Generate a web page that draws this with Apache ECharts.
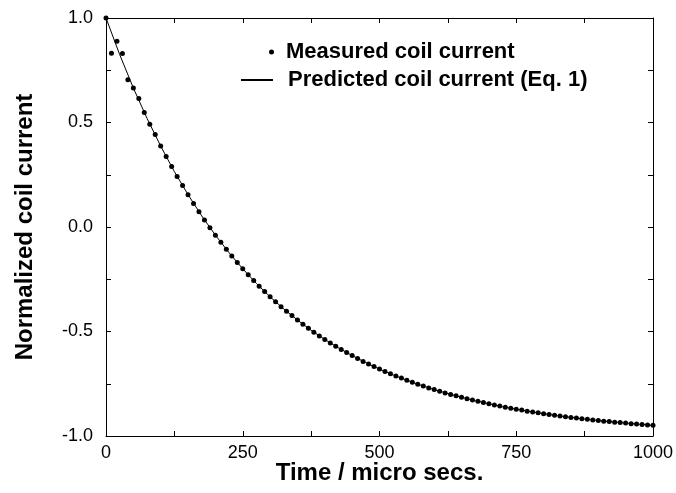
<!DOCTYPE html>
<html>
<head>
<meta charset="utf-8">
<script src="https://cdn.jsdelivr.net/npm/echarts@6/dist/echarts.min.js"></script>
<style>
html,body{margin:0;padding:0;background:#fff;}
#chart{width:676px;height:493px;}
</style>
</head>
<body>
<div id="chart"></div>
<script>
// time axis (micro secs) of the measured samples
var measuredTime = [0,10,20,30,40,50,60,70,80,90,
    100,110,120,130,140,150,160,170,180,190,
    200,210,220,230,240,250,260,270,280,290,
    300,310,320,330,340,350,360,370,380,390,
    400,410,420,430,440,450,460,470,480,490,
    500,510,520,530,540,550,560,570,580,590,
    600,610,620,630,640,650,660,670,680,690,
    700,710,720,730,740,750,760,770,780,790,
    800,810,820,830,840,850,860,870,880,890,
    900,910,920,930,940,950,960,970,980,990,1000];
// normalized coil current
var measuredCurrent = [1.000,0.831,0.889,0.830,0.705,0.665,0.615,0.548,0.492,0.443,
    0.387,0.337,0.289,0.242,0.198,0.154,0.113,0.073,0.034,-0.003,
    -0.039,-0.073,-0.107,-0.139,-0.170,-0.200,-0.228,-0.256,-0.283,-0.309,
    -0.334,-0.358,-0.381,-0.403,-0.424,-0.445,-0.465,-0.484,-0.503,-0.521,
    -0.538,-0.555,-0.571,-0.586,-0.601,-0.615,-0.629,-0.643,-0.655,-0.668,
    -0.680,-0.691,-0.702,-0.713,-0.723,-0.733,-0.743,-0.752,-0.761,-0.770,
    -0.778,-0.786,-0.794,-0.801,-0.808,-0.815,-0.822,-0.828,-0.834,-0.840,
    -0.846,-0.852,-0.857,-0.862,-0.867,-0.872,-0.876,-0.881,-0.885,-0.889,
    -0.893,-0.897,-0.901,-0.904,-0.908,-0.911,-0.914,-0.917,-0.920,-0.923,
    -0.926,-0.929,-0.931,-0.934,-0.936,-0.938,-0.941,-0.943,-0.945,-0.947,-0.949];
// predicted curve (Eq. 1), read at 25 micro sec steps
var predictedTime = [0,25,50,75,100,125,150,175,200,225,
    250,275,300,325,350,375,400,425,450,475,
    500,525,550,575,600,625,650,675,700,725,
    750,775,800,825,850,875,900,925,950,975,1000];
var predictedCurrent = [1.000,0.825,0.665,0.520,0.387,0.265,0.155,0.053,-0.039,-0.123,
    -0.200,-0.270,-0.334,-0.392,-0.445,-0.494,-0.538,-0.578,-0.615,-0.649,
    -0.680,-0.708,-0.733,-0.757,-0.778,-0.797,-0.815,-0.831,-0.846,-0.860,
    -0.872,-0.883,-0.893,-0.903,-0.911,-0.919,-0.926,-0.932,-0.938,-0.944,-0.949];

var xTickLabels = [0,250,500,750,1000];
var yTickLabels = [-1.0,-0.5,0.0,0.5,1.0];

var FONT = "'Liberation Sans', Arial, Helvetica, sans-serif";

function zip(a,b){
    var out=[];
    for(var i=0;i<a.length;i++){out.push([a[i],b[i]]);}
    return out;
}

var myChart = echarts.init(document.getElementById('chart'), null, {renderer:'canvas'});

var lineStyleBlack = {color:'#000', width:1};
var xAxisBase = {
    type:'value', min:0, max:1000, interval:125,
    axisLine:{show:true, onZero:false, lineStyle:lineStyleBlack},
    axisTick:{show:true, inside:true, length:5, lineStyle:lineStyleBlack},
    splitLine:{show:false}
};
var yAxisBase = {
    type:'value', min:-1, max:1, interval:0.25,
    axisLine:{show:true, onZero:false, lineStyle:lineStyleBlack},
    axisTick:{show:true, inside:true, length:5, lineStyle:lineStyleBlack},
    splitLine:{show:false}
};

var option = {
    animation:false,
    backgroundColor:'#fff',
    grid:{left:106, right:23, top:18, bottom:57, containLabel:false, outerBoundsMode:'none'},
    legend:[
        {
            data:['Measured coil current'],
            left:269, top:41, padding:0,
            itemWidth:5, itemHeight:5,
            selectedMode:false,
            textStyle:{color:'#000', fontSize:22, fontWeight:'bold', fontFamily:FONT, padding:[0,0,0,7]}
        },
        {
            data:['Predicted coil current (Eq. 1)'],
            left:240, top:69, padding:0,
            itemWidth:32, itemHeight:2,
            selectedMode:false,
            textStyle:{color:'#000', fontSize:22, fontWeight:'bold', fontFamily:FONT, padding:[0,0,0,10]}
        }
    ],
    xAxis:[
        Object.assign({}, xAxisBase, {
            position:'bottom',
            name:'Time / micro secs.',
            nameLocation:'middle',
            nameGap:25,
            nameMoveOverlap:false,
            nameTextStyle:{color:'#000', fontSize:24, fontWeight:'bold', fontFamily:FONT},
            axisLabel:{
                show:true, color:'#000', fontSize:18, fontFamily:FONT, margin:8,
                showMinLabel:true, showMaxLabel:true,
                formatter:function(v){ return xTickLabels.indexOf(v) >= 0 ? String(v) : ''; }
            }
        }),
        Object.assign({}, xAxisBase, {position:'top', axisLabel:{show:false}})
    ],
    yAxis:[
        Object.assign({}, yAxisBase, {
            position:'left',
            name:'Normalized coil current',
            nameLocation:'middle',
            nameGap:69,
            nameMoveOverlap:false,
            nameRotate:90,
            nameTextStyle:{color:'#000', fontSize:24, fontWeight:'bold', fontFamily:FONT},
            axisLabel:{
                show:true, color:'#000', fontSize:18, fontFamily:FONT, margin:13,
                showMinLabel:true, showMaxLabel:true,
                formatter:function(v){
                    for(var i=0;i<yTickLabels.length;i++){
                        if(Math.abs(yTickLabels[i]-v)<1e-6){ return yTickLabels[i].toFixed(1); }
                    }
                    return '';
                }
            }
        }),
        Object.assign({}, yAxisBase, {position:'right', axisLabel:{show:false}})
    ],
    series:[
        {
            name:'Predicted coil current (Eq. 1)',
            type:'line',
            xAxisIndex:0, yAxisIndex:0,
            data:zip(predictedTime, predictedCurrent),
            symbol:'none',
            smooth:false,
            lineStyle:{color:'#000', width:1},
            itemStyle:{color:'#000'},
            z:2
        },
        {
            name:'Measured coil current',
            type:'scatter',
            xAxisIndex:0, yAxisIndex:0,
            data:zip(measuredTime, measuredCurrent),
            symbol:'circle',
            symbolSize:5,
            itemStyle:{color:'#000', opacity:1},
            z:3
        }
    ]
};

myChart.setOption(option);
window.addEventListener('resize', function(){ myChart.resize(); });
</script>
</body>
</html>
